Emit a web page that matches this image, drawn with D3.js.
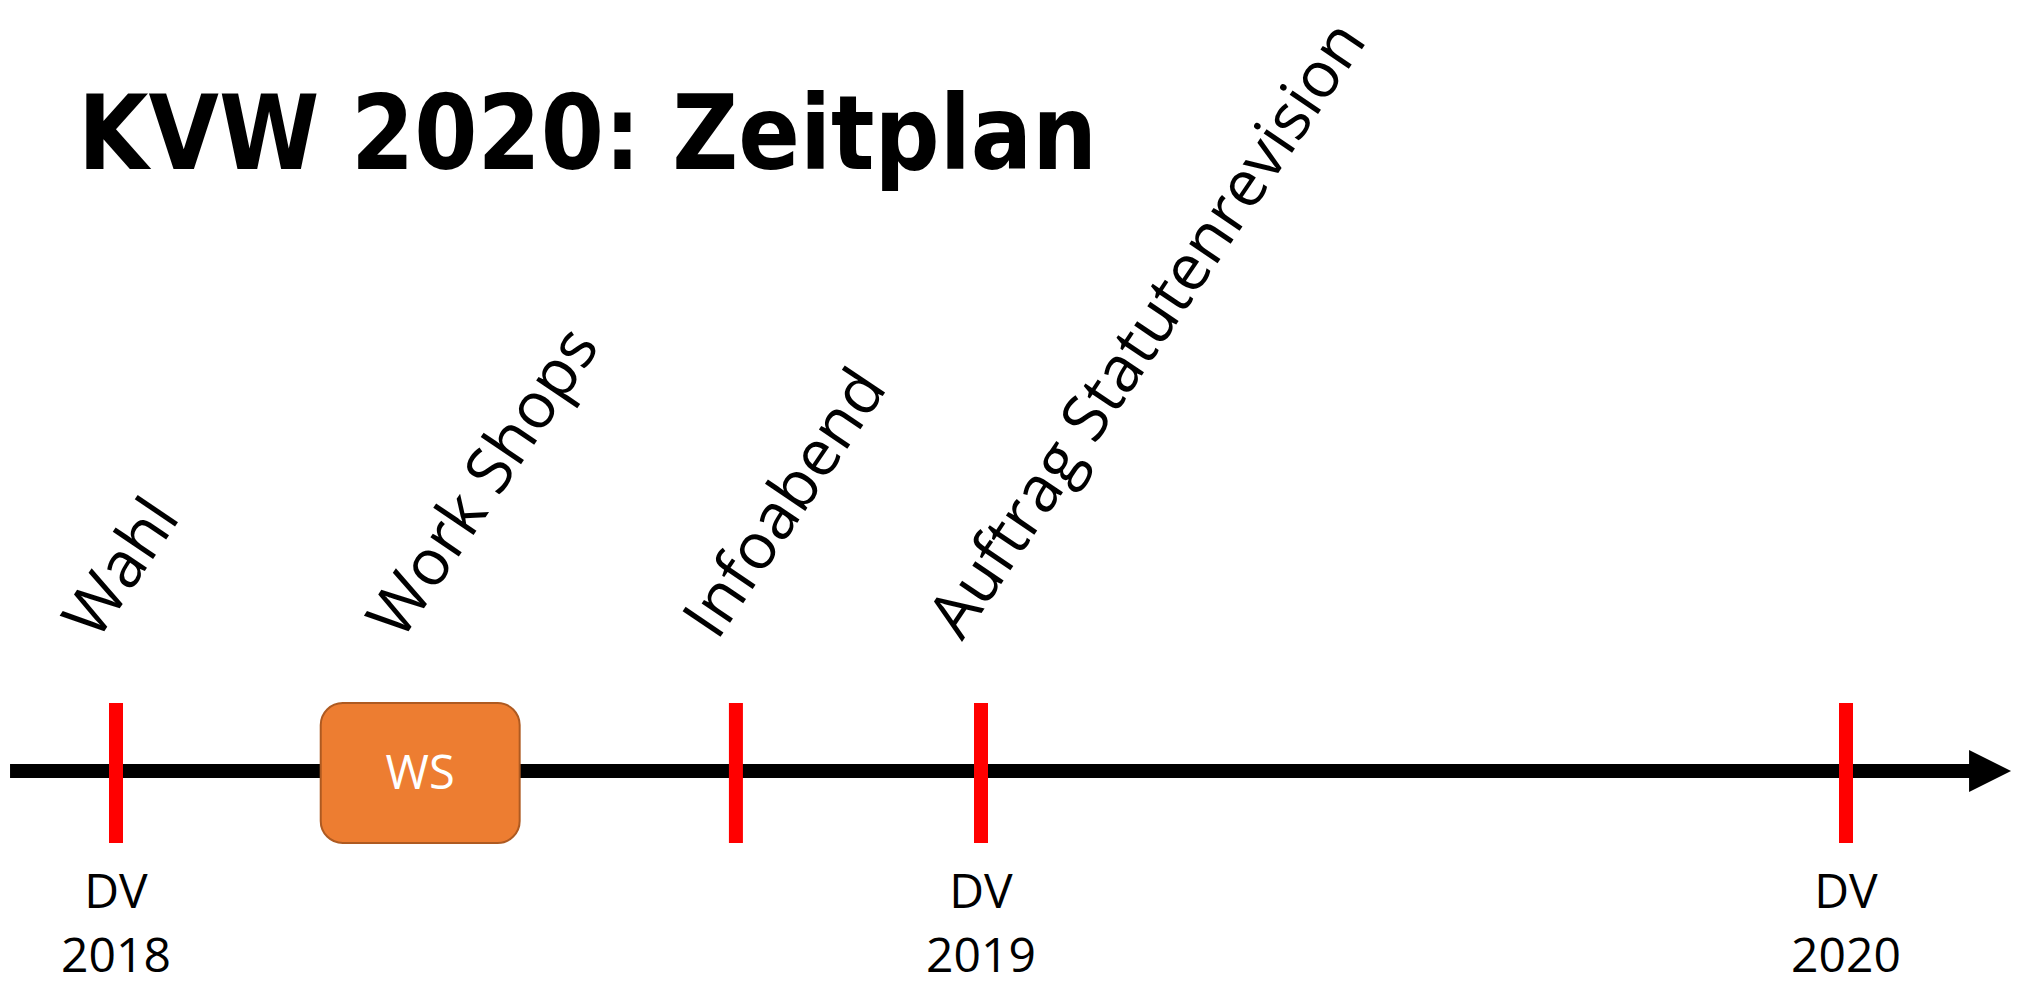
<!DOCTYPE html>
<html>
<head>
<meta charset="utf-8">
<script src="https://cdn.jsdelivr.net/npm/d3@7"></script>
<style>
  body { margin: 0; background: #fff; }
  svg { display: block; }
</style>
</head>
<body>
<svg id="svg" width="2022" height="987"></svg>
<script>
// months counted from Jan 2018 (fractional)
const title = 'KVW 2020: Zeitplan'
const eventLabels = ['Wahl', 'Work Shops', 'Infoabend', 'Auftrag Statutenrevision']
const eventMonths = [5.5, 9.72, 14.1, 17.5]
const markerMonths = [5.5, 14.1, 17.5, 29.5]
const dvLabels = ['2018', '2019', '2020']
const dvMonths = [5.5, 17.5, 29.5]
const workshopSpan = [8.34, 11.1]
const workshopLabel = 'WS'
const axisSpan = [4.03, 31.79]

const $svg = d3.select('#svg')

const axisY = 771
const arrowSize = 42

const scaleX = d3.scaleLinear()
	.domain([dvMonths[0], dvMonths[2]])
	.range([116, 1846])

$svg.append('rect')
	.attr('width', 2022)
	.attr('height', 987)
	.attr('fill', '#fff')

$svg.append('text')
	.attr('x', 78)
	.attr('y', 169)
	.attr('font-family', 'DejaVu Sans')
	.attr('font-weight', 'bold')
	.attr('font-stretch', 'condensed')
	.attr('font-size', 103)
	.attr('textLength', 1019)
	.attr('lengthAdjust', 'spacingAndGlyphs')
	.text(title)

// timeline with arrow
const tip = scaleX(axisSpan[1])
$svg.append('line')
	.attr('x1', scaleX(axisSpan[0]))
	.attr('x2', tip - arrowSize + 1)
	.attr('y1', axisY)
	.attr('y2', axisY)
	.attr('stroke', '#000')
	.attr('stroke-width', 14)

$svg.append('path')
	.attr('d', d3.line()([
		[tip - arrowSize, axisY - arrowSize / 2],
		[tip, axisY],
		[tip - arrowSize, axisY + arrowSize / 2]
	]) + 'Z')
	.attr('fill', '#000')

// red markers
$svg.selectAll('rect.marker')
	.data(markerMonths)
	.join('rect')
	.attr('class', 'marker')
	.attr('x', d => scaleX(d) - 7)
	.attr('y', 703)
	.attr('width', 14)
	.attr('height', 140)
	.attr('fill', '#ff0000')

// workshop box
const wsX0 = scaleX(workshopSpan[0])
const wsX1 = scaleX(workshopSpan[1])
$svg.append('rect')
	.attr('x', wsX0)
	.attr('y', 703)
	.attr('width', wsX1 - wsX0)
	.attr('height', 140)
	.attr('rx', 22)
	.attr('fill', '#ed7d31')
	.attr('stroke', '#ae5a21')
	.attr('stroke-width', 2)

$svg.append('text')
	.attr('x', (wsX0 + wsX1) / 2)
	.attr('y', 789)
	.attr('text-anchor', 'middle')
	.attr('font-family', 'Open Sans')
	.attr('font-size', 47)
	.attr('fill', '#fff')
	.text(workshopLabel)

// rotated event labels
$svg.selectAll('text.event')
	.data(eventLabels)
	.join('text')
	.attr('class', 'event')
	.attr('transform', (d, i) => `translate(${scaleX(eventMonths[i]) - 19},642) rotate(-56)`)
	.attr('font-family', 'Open Sans')
	.attr('font-size', 64)
	.text(d => d)

// DV labels below
const $dv = $svg.selectAll('g.dv')
	.data(dvLabels)
	.join('g')
	.attr('class', 'dv')
	.attr('transform', (d, i) => `translate(${scaleX(dvMonths[i])},0)`)

$dv.append('text')
	.attr('y', 908)
	.attr('text-anchor', 'middle')
	.attr('font-family', 'Open Sans')
	.attr('font-size', 48)
	.text('DV')

$dv.append('text')
	.attr('y', 972)
	.attr('text-anchor', 'middle')
	.attr('font-family', 'Open Sans')
	.attr('font-size', 48)
	.text(d => d)
</script>
</body>
</html>
